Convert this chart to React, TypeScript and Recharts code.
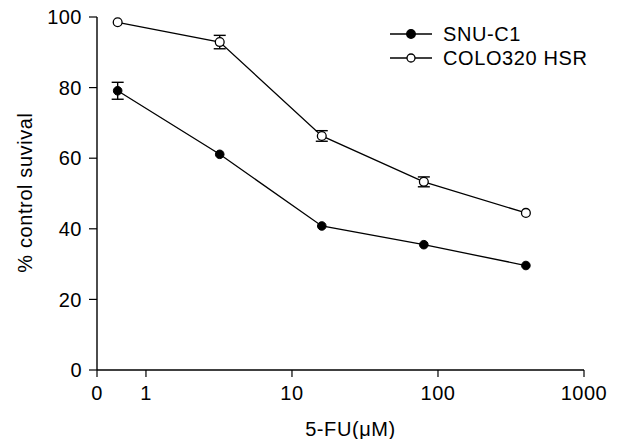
import React from 'react';
import { ComposedChart, Line, XAxis, YAxis, ErrorBar, Legend } from 'recharts';

// 5-FU concentrations (µM)
const concentrations = [0.64, 3.2, 16, 80, 400];
// % control survival
const snuC1 = [79.1, 61.1, 40.8, 35.5, 29.6];
const snuC1Err = [2.4, null, null, null, null];
const colo320 = [98.5, 92.9, 66.3, 53.3, 44.5];
const colo320Err = [null, 1.9, 1.5, 1.4, null];

const X_MIN = 0.462;
const xTicks = [X_MIN, 1, 10, 100, 1000];
const yTicks = [0, 20, 40, 60, 80, 100];
const seriesNames = ['SNU-C1', 'COLO320 HSR'];

const data = concentrations.map((c, i) => ({
  conc: c,
  snu: snuC1[i],
  snuErr: snuC1Err[i] ?? undefined,
  colo: colo320[i],
  coloErr: colo320Err[i] ?? undefined,
}));

const FONT = '"Liberation Sans", Arial, Helvetica, sans-serif';
const INK = '#000';

const renderLegend = () => (
  <svg width={230} height={60} style={{ display: 'block' }}>
    {seriesNames.map((name, i) => (
      <g key={name} transform={`translate(0, ${12 + i * 24})`}>
        <line x1={5} x2={47} y1={0} y2={0} stroke={INK} strokeWidth={1.3} />
        <circle cx={26} cy={0} r={i === 0 ? 4.3 : 4} fill={i === 0 ? INK : '#fff'} stroke={INK} strokeWidth={1.3} />
        <text x={58} y={0} dy="0.36em" fontSize={20} letterSpacing={0.6} fontFamily={FONT} fill={INK}>
          {name}
        </text>
      </g>
    ))}
  </svg>
);

const YTitle = (props: any) => {
  const vb = props.viewBox || { x: 0, y: 17, width: 97, height: 353 };
  const cx = vb.x + 25;
  const cy = vb.y + vb.height / 2 - 1;
  return (
    <text
      x={cx}
      y={cy}
      transform={`rotate(-90 ${cx} ${cy})`}
      textAnchor="middle"
      dy="0.36em"
      fontSize={20}
      letterSpacing={0.6}
      fontFamily={FONT}
      fill={INK}
    >
      % control suvival
    </text>
  );
};

const XTitle = (props: any) => {
  const vb = props.viewBox || { x: 97, y: 370, width: 487, height: 69 };
  const cx = vb.x + vb.width / 2 + 10;
  return (
    <text x={cx} y={436} textAnchor="middle" fontSize={20} letterSpacing={0.6} fontFamily={FONT} fill={INK}>
      5-FU(μM)
    </text>
  );
};

export default function App() {
  return (
    <div style={{ position: 'absolute', left: 0, top: 0, width: 621, height: 439, background: '#fff' }}>
      <ComposedChart
        width={621}
        height={439}
        data={data}
        margin={{ top: 17, right: 37, bottom: 0, left: 0 }}
      >
        <XAxis
          dataKey="conc"
          type="number"
          scale="log"
          domain={[X_MIN, 1000]}
          ticks={xTicks}
          allowDataOverflow
          interval={0}
          tickFormatter={(v: number) => (v < 1 ? '0' : String(v))}
          tick={{ fontSize: 20, fill: INK, fontFamily: FONT, letterSpacing: 0.5 } as any}
          tickSize={7}
          tickMargin={9}
          axisLine={{ stroke: INK, strokeWidth: 1.4 }}
          tickLine={{ stroke: INK, strokeWidth: 1.2 }}
          height={69}
          label={XTitle as any}
        />
        <YAxis
          type="number"
          domain={[0, 100]}
          ticks={yTicks}
          interval={0}
          width={97}
          tick={{ fontSize: 20, fill: INK, fontFamily: FONT, letterSpacing: 0.5 } as any}
          tickSize={8}
          tickMargin={7}
          axisLine={{ stroke: INK, strokeWidth: 1.4 }}
          tickLine={{ stroke: INK, strokeWidth: 1.2 }}
          label={YTitle as any}
        />
        <Legend
          layout="vertical"
          verticalAlign="middle"
          align="center"
          content={renderLegend}
          wrapperStyle={{ position: 'absolute', left: 385, top: 22, width: 230 }}
        />
        <Line
          type="linear"
          dataKey="snu"
          name="SNU-C1"
          stroke={INK}
          strokeWidth={1.3}
          dot={{ r: 4.3, fill: INK, stroke: INK, strokeWidth: 1 }}
          activeDot={false}
          isAnimationActive={false}
        >
          <ErrorBar dataKey="snuErr" direction="y" width={6} stroke={INK} strokeWidth={1.4} isAnimationActive={false} />
        </Line>
        <Line
          type="linear"
          dataKey="colo"
          name="COLO320 HSR"
          stroke={INK}
          strokeWidth={1.3}
          dot={{ r: 4.4, fill: '#fff', stroke: INK, strokeWidth: 1.3 }}
          activeDot={false}
          isAnimationActive={false}
        >
          <ErrorBar dataKey="coloErr" direction="y" width={6} stroke={INK} strokeWidth={1.4} isAnimationActive={false} />
        </Line>
      </ComposedChart>
    </div>
  );
}
